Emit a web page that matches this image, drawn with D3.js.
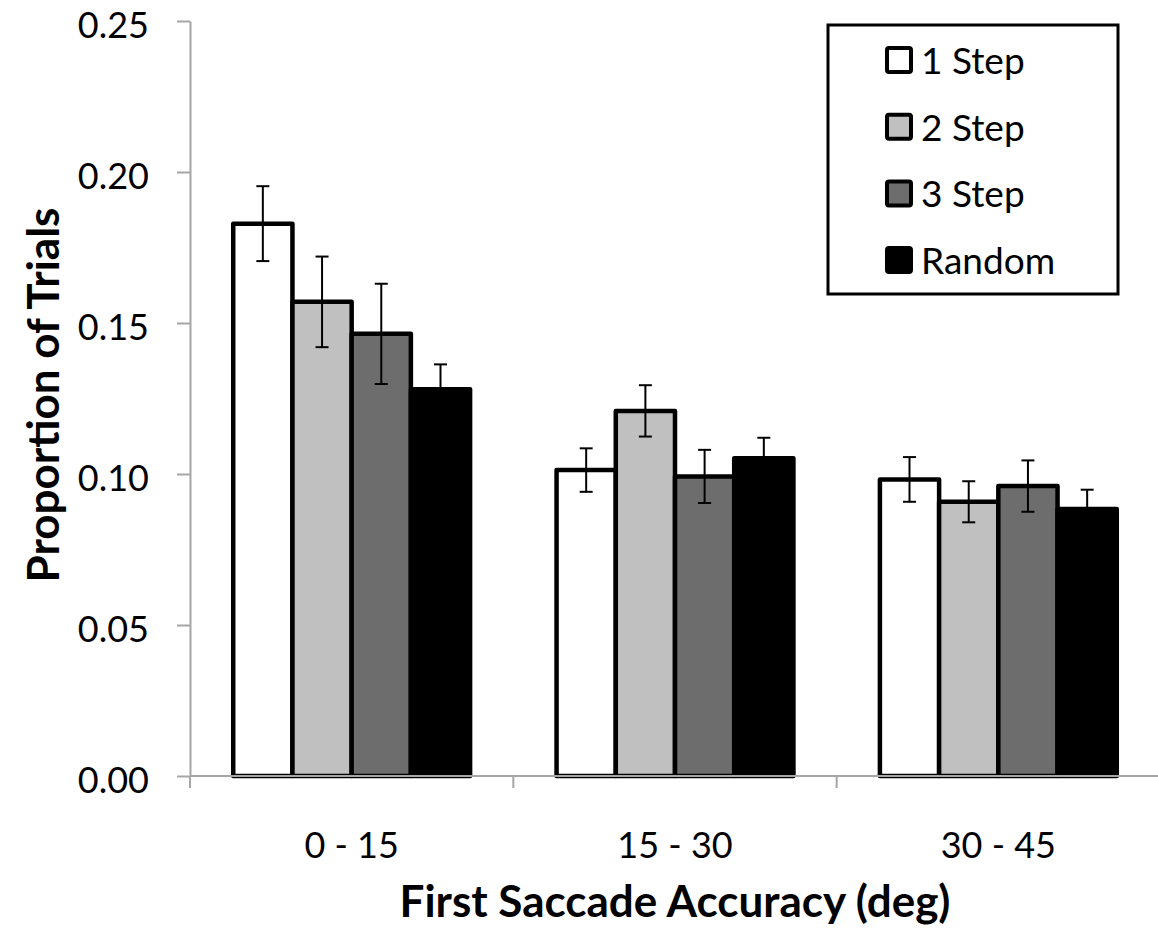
<!DOCTYPE html>
<html>
<head>
<meta charset="utf-8">
<script src="https://cdn.jsdelivr.net/npm/d3@7"></script>
<style>
  body { margin: 0; background: #fff; }
  text { font-family: Lato, "Open Sans", sans-serif; fill: #000; }
</style>
</head>
<body>
<div class="chart"></div>
<script>
// categories and series
const categories = ["0 - 15", "15 - 30", "30 - 45"];
const series = ["1 Step", "2 Step", "3 Step", "Random"];
const colors = ["#ffffff", "#c0c0c0", "#6d6d6d", "#000000"];

// mean proportion per series, one value per category
const step1 = [0.1829, 0.1013, 0.0982];
const step2 = [0.1570, 0.1209, 0.0908];
const step3 = [0.1464, 0.0992, 0.0960];
const random = [0.1281, 0.1052, 0.0884];

// error bar half widths
const err1 = [0.0124, 0.0072, 0.0074];
const err2 = [0.0150, 0.0085, 0.0068];
const err3 = [0.0166, 0.0088, 0.0085];
const errR = [0.0082, 0.0068, 0.0064];

const yTicks = [0, 0.05, 0.10, 0.15, 0.20, 0.25];

const values = [step1, step2, step3, random];
const errors = [err1, err2, err3, errR];

const data = [];
categories.forEach((c, i) => {
  series.forEach((s, j) => {
    data.push({ cat: c, series: s, value: values[j][i], err: errors[j][i], color: colors[j] });
  });
});

const W = 1158, H = 928;
const plotLeft = 190, plotRight = 1160, plotTop = 21, plotBottom = 776;

const svg = d3.select(".chart")
  .append("svg")
  .attr("width", W)
  .attr("height", H);

const x0 = d3.scaleBand().domain(categories).range([plotLeft, plotRight]);
const x1 = d3.scaleBand().domain(series).range([0, x0.bandwidth()]).paddingOuter(0.73);
const y = d3.scaleLinear().domain([0, 0.25]).range([plotBottom, plotTop]);

// y axis
const yAxis = svg.append("g")
  .attr("transform", "translate(" + plotLeft + ",0)")
  .call(d3.axisLeft(y).tickValues(yTicks).tickFormat(d3.format(".2f")).tickSize(13).tickPadding(28).tickSizeOuter(0));
yAxis.select(".domain").attr("stroke", "#a6a6a6").attr("stroke-width", 2);
yAxis.selectAll(".tick line").attr("stroke", "#a6a6a6").attr("stroke-width", 2);
yAxis.selectAll(".tick text")
  .style("font-size", "36px")
  .style("font-family", "Lato, sans-serif")
  .attr("dy", "0.46em")
  .attr("fill", "#000");

// bars
svg.selectAll("rect.bar")
  .data(data)
  .enter().append("rect")
  .attr("class", "bar")
  .attr("x", d => x0(d.cat) + x1(d.series))
  .attr("y", d => y(d.value))
  .attr("width", x1.bandwidth())
  .attr("height", d => y(0) - y(d.value))
  .attr("fill", d => d.color)
  .attr("stroke", "#000")
  .attr("stroke-width", 4.5)
  .attr("stroke-linejoin", "round");

// error bars
const eb = svg.selectAll("g.err")
  .data(data)
  .enter().append("g")
  .attr("class", "err")
  .attr("transform", d => "translate(" + (x0(d.cat) + x1(d.series) + x1.bandwidth() / 2) + ",0)");
eb.append("line")
  .attr("y1", d => y(d.value + d.err))
  .attr("y2", d => y(d.value - d.err))
  .attr("stroke", "#000").attr("stroke-width", 2);
eb.append("line")
  .attr("x1", -6.5).attr("x2", 6.5)
  .attr("y1", d => y(d.value + d.err)).attr("y2", d => y(d.value + d.err))
  .attr("stroke", "#000").attr("stroke-width", 2);
eb.append("line")
  .attr("x1", -6.5).attr("x2", 6.5)
  .attr("y1", d => y(d.value - d.err)).attr("y2", d => y(d.value - d.err))
  .attr("stroke", "#000").attr("stroke-width", 2);

// x axis: line, boundary ticks, centred labels
svg.append("line")
  .attr("x1", plotLeft).attr("x2", plotRight)
  .attr("y1", plotBottom).attr("y2", plotBottom)
  .attr("stroke", "#a6a6a6").attr("stroke-width", 2);

const bounds = categories.map(c => x0(c)).concat([plotRight]);
svg.selectAll("line.xtick")
  .data(bounds)
  .enter().append("line")
  .attr("class", "xtick")
  .attr("x1", d => d).attr("x2", d => d)
  .attr("y1", plotBottom).attr("y2", plotBottom + 12)
  .attr("stroke", "#a6a6a6").attr("stroke-width", 2);

svg.selectAll("text.xlab")
  .data(categories)
  .enter().append("text")
  .attr("class", "xlab")
  .attr("x", d => x0(d) + x0.bandwidth() / 2)
  .attr("y", 858)
  .attr("text-anchor", "middle")
  .style("font-size", "36px")
  .text(d => d);

// axis titles
svg.append("text")
  .attr("x", (plotLeft + plotRight) / 2)
  .attr("y", 917)
  .attr("text-anchor", "middle")
  .style("font-size", "44px")
  .style("font-weight", "bold")
  .text("First Saccade Accuracy (deg)");

svg.append("text")
  .attr("transform", "translate(59,395) rotate(-90)")
  .attr("text-anchor", "middle")
  .style("font-size", "44px")
  .style("font-weight", "bold")
  .text("Proportion of Trials");

// legend
const legend = svg.append("g");
legend.append("rect")
  .attr("x", 828).attr("y", 25)
  .attr("width", 290).attr("height", 269)
  .attr("fill", "#fff")
  .attr("stroke", "#000").attr("stroke-width", 3);

const item = legend.selectAll("g.item")
  .data(series)
  .enter().append("g")
  .attr("class", "item")
  .attr("transform", (d, i) => "translate(887," + (60 + i * 66.7) + ")");
item.append("rect")
  .attr("x", 0).attr("y", -12)
  .attr("width", 24).attr("height", 24)
  .attr("rx", 2)
  .attr("fill", (d, i) => colors[i])
  .attr("stroke", "#000").attr("stroke-width", 4);
item.append("text")
  .attr("x", 34).attr("y", 14)
  .style("font-size", "37px")
  .text(d => d);
</script>
</body>
</html>
